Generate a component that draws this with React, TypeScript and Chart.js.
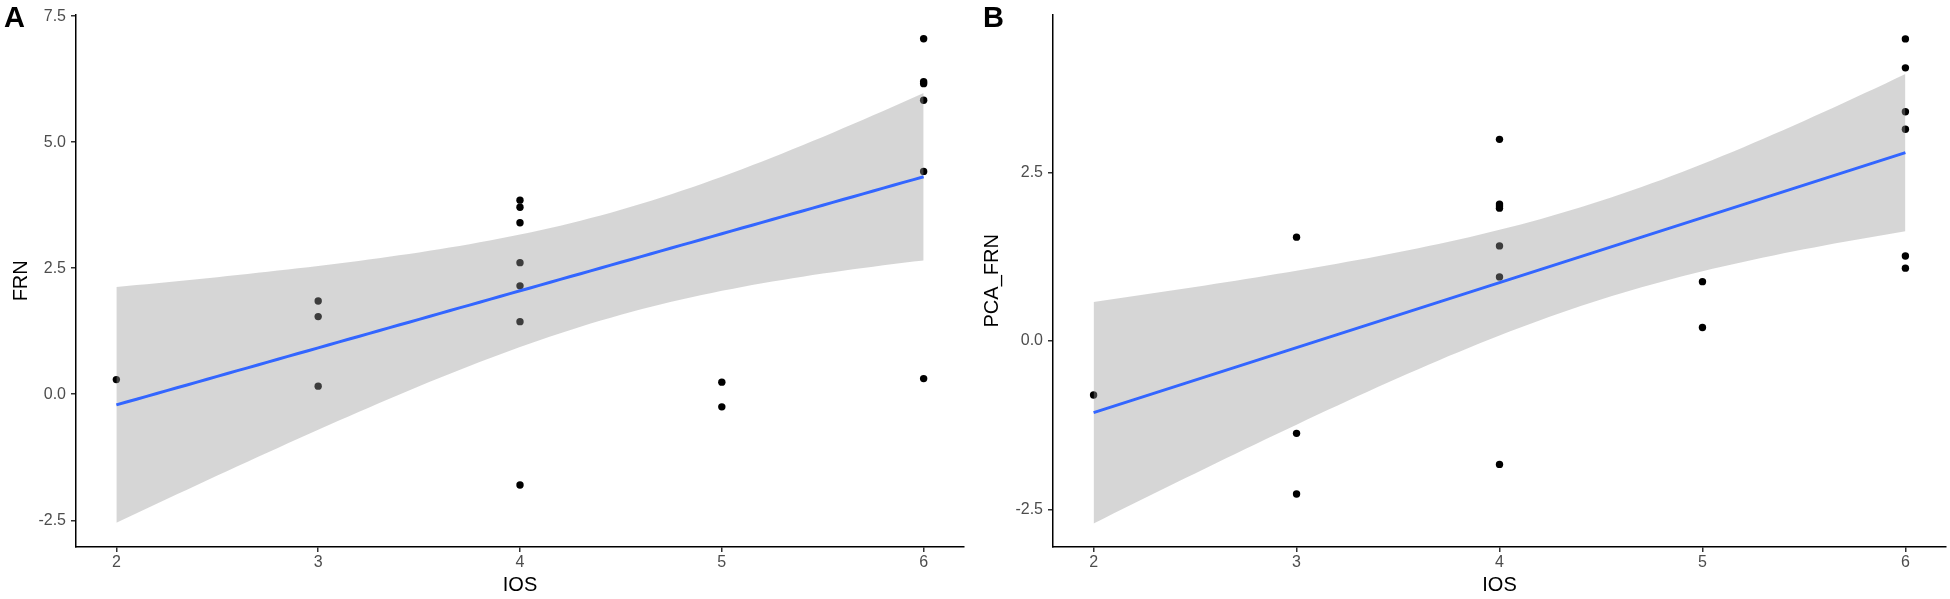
import { useEffect, useRef } from 'react';
import { Chart, registerables } from 'chart.js';

Chart.register(...registerables);

// one row per subject
const IOS = [2, 3, 3, 3, 4, 4, 4, 4, 4, 4, 4, 5, 5, 6, 6, 6, 6, 6, 6];
const FRN = [0.29, 1.85, 1.54, 0.16, 3.85, 3.71, 3.4, 2.61, 2.15, 1.44, -1.8, 0.24, -0.25, 7.05, 6.2, 6.16, 5.83, 4.42, 0.31];
const PCA_FRN = [-0.8, 1.54, -1.37, -2.27, 2.99, 2.03, 2.0, 1.97, 1.41, 0.95, -1.83, 0.88, 0.2, 4.48, 4.05, 3.4, 3.14, 1.26, 1.08];

const X_TICKS = [2, 3, 4, 5, 6];
const FRN_TICKS = [-2.5, 0, 2.5, 5, 7.5];
const PCA_TICKS = [-2.5, 0, 2.5];

// qt(0.975, df = 17) for the lm confidence band (n = 19)
const T_975 = 2.1098;
const FONT = '"Liberation Sans", Arial, Helvetica, sans-serif';

function lmBand(xs: number[], ys: number[]) {
  const n = xs.length;
  const mx = xs.reduce((a, b) => a + b, 0) / n;
  const my = ys.reduce((a, b) => a + b, 0) / n;
  let sxx = 0;
  let sxy = 0;
  xs.forEach((x, i) => {
    sxx += (x - mx) ** 2;
    sxy += (x - mx) * (ys[i] - my);
  });
  const slope = sxy / sxx;
  const icpt = my - slope * mx;
  let sse = 0;
  xs.forEach((x, i) => {
    sse += (ys[i] - (icpt + slope * x)) ** 2;
  });
  const s = Math.sqrt(sse / (n - 2));

  const lo = Math.min(...xs);
  const hi = Math.max(...xs);
  const fit: { x: number; y: number }[] = [];
  const upper: { x: number; y: number }[] = [];
  const lower: { x: number; y: number }[] = [];
  const steps = 80;
  for (let k = 0; k <= steps; k++) {
    const x = lo + ((hi - lo) * k) / steps;
    const yhat = icpt + slope * x;
    const half = T_975 * s * Math.sqrt(1 / n + (x - mx) ** 2 / sxx);
    fit.push({ x, y: yhat });
    upper.push({ x, y: yhat + half });
    lower.push({ x, y: yhat - half });
  }
  return { fit, upper, lower };
}

interface PanelProps {
  left: number;
  ys: number[];
  yTicks: number[];
  yMin: number;
  yMax: number;
  yLabel: string;
  yWidth: number;
  titlePad: number;
  padTop: number;
  padRight: number;
  tag: string;
  tagLeft: number;
}

function Panel(p: PanelProps) {
  const canvasRef = useRef<HTMLCanvasElement>(null);

  useEffect(() => {
    const el = canvasRef.current;
    if (!el) return;
    const band = lmBand(IOS, p.ys);
    const pts = IOS.map((x, i) => ({ x, y: p.ys[i] }));

    const tickFont = { family: FONT, size: 16 };
    const titleFont = { family: FONT, size: 20 };

    const chart = new Chart(el, {
      type: 'scatter',
      data: {
        datasets: [
          {
            type: 'line',
            data: band.fit,
            borderColor: '#3366FF',
            borderWidth: 3,
            pointRadius: 0,
            fill: false,
          },
          {
            type: 'line',
            data: band.upper,
            borderWidth: 0,
            borderColor: 'rgba(0,0,0,0)',
            pointRadius: 0,
            fill: '+1',
            backgroundColor: 'rgba(153,153,153,0.4)',
          },
          {
            type: 'line',
            data: band.lower,
            borderWidth: 0,
            borderColor: 'rgba(0,0,0,0)',
            pointRadius: 0,
            fill: false,
          },
          {
            data: pts,
            backgroundColor: '#000000',
            borderWidth: 0,
            pointRadius: 3.7,
            pointHoverRadius: 3.7,
          },
        ],
      },
      options: {
        responsive: true,
        maintainAspectRatio: false,
        animation: false,
        layout: { padding: { top: p.padTop, right: p.padRight, bottom: 0, left: 0 } },
        plugins: { legend: { display: false }, tooltip: { enabled: false } },
        scales: {
          x: {
            type: 'linear',
            min: 1.8,
            max: 6.2,
            afterBuildTicks: (s: any) => {
              s.ticks = X_TICKS.map((v) => ({ value: v }));
            },
            afterFit: (s: any) => {
              s.height = 52;
            },
            grid: { drawOnChartArea: false, drawTicks: true, tickLength: 5, color: '#333333', lineWidth: 1.5 },
            border: { display: true, color: '#000000', width: 1.5 },
            ticks: { font: tickFont, color: '#4D4D4D', padding: 1, callback: (v: any) => String(v) },
            title: { display: true, text: 'IOS', font: titleFont, color: '#000000', padding: { top: 0, bottom: 1.5 } },
          },
          y: {
            type: 'linear',
            min: p.yMin,
            max: p.yMax,
            afterBuildTicks: (s: any) => {
              s.ticks = p.yTicks.map((v) => ({ value: v }));
            },
            afterFit: (s: any) => {
              s.width = p.yWidth;
            },
            grid: { drawOnChartArea: false, drawTicks: true, tickLength: 5, color: '#333333', lineWidth: 1.5 },
            border: { display: true, color: '#000000', width: 1.5 },
            ticks: { font: tickFont, color: '#4D4D4D', padding: 5, callback: (v: any) => Number(v).toFixed(1) },
            title: { display: true, text: p.yLabel, font: titleFont, color: '#000000', padding: { top: p.titlePad, bottom: 0 } },
          },
        },
      },
    });

    return () => {
      chart.destroy();
    };
  }, []);

  return (
    <>
      <div style={{ position: 'absolute', left: p.left, top: 0, width: 975, height: 599 }}>
        <canvas ref={canvasRef} />
      </div>
      <div
        style={{
          position: 'absolute',
          left: p.tagLeft,
          top: 2.5,
          fontFamily: FONT,
          fontWeight: 'bold',
          fontSize: 29,
          lineHeight: 1,
          color: '#000',
        }}
      >
        {p.tag}
      </div>
    </>
  );
}

export default function App() {
  return (
    <div style={{ position: 'absolute', left: 0, top: 0, width: 1950, height: 599, background: '#fff' }}>
      <Panel
        left={0}
        ys={FRN}
        yTicks={FRN_TICKS}
        yMin={-3.03}
        yMax={7.53}
        yLabel="FRN"
        yWidth={76}
        titlePad={9}
        padTop={14}
        padRight={11}
        tag="A"
        tagLeft={4}
      />
      <Panel
        left={975}
        ys={PCA_FRN}
        yTicks={PCA_TICKS}
        yMin={-3.055}
        yMax={4.84}
        yLabel="PCA_FRN"
        yWidth={78}
        titlePad={5.7}
        padTop={9}
        padRight={4}
        tag="B"
        tagLeft={983}
      />
    </div>
  );
}
